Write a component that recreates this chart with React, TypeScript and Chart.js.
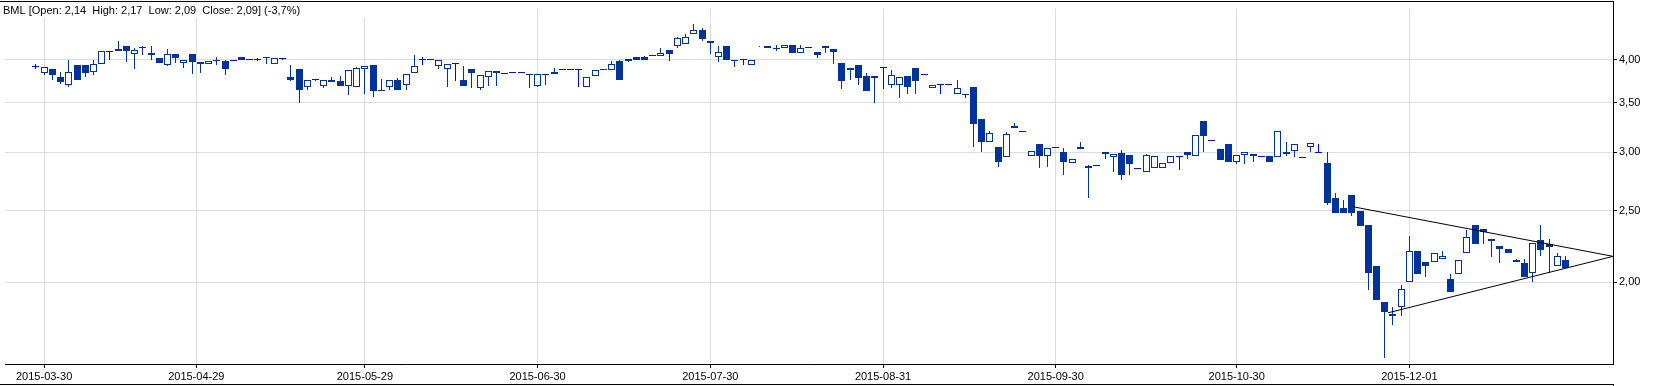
import React, { useEffect, useRef } from 'react';
import Chart from 'chart.js/auto';

// ---- data (trading-day index 0 = 2015-03-27) ----
const openP = [
  3.92, 3.84, 3.89, 3.79, 3.70, 3.93, 3.93, 3.85, 3.95, 4.11,
  4.11, 4.18, 4.07, 4.16, 4.09, 4.02, 3.94, 4.07, 3.96, 4.07,
  3.97, 3.95, 4.00, 3.98, 3.99, 4.04, 4.00, 4.00, 4.04, 3.95,
  4.01, 3.79, 3.89, 3.68, 3.76, 3.69, 3.76, 3.74, 3.69, 3.67,
  3.89, 3.93, 3.64, 3.67, 3.76, 3.70, 3.84, 4.00, 4.00, 3.92,
  3.89, 3.95, 3.76, 3.89, 3.66, 3.79, 3.86, 3.83, 3.85, 3.85,
  3.83, 3.69, 3.81, 3.85, 3.88, 3.88, 3.88, 3.68, 3.80, 3.89,
  3.88, 3.98, 4.01, 4.03, 4.03, 4.05, 4.05, 4.12, 4.17, 4.20,
  4.33, 4.39, 4.24, 4.04, 4.18, 3.98, 4.00, 3.94, 4.18, 4.18,
  4.15, 4.15, 4.19, 4.08, 4.15, 4.10, 4.17, 4.14, 3.96, 3.90,
  3.93, 3.80, 3.80, 3.90, 3.70, 3.70, 3.80, 3.90, 3.82, 3.66,
  3.70, 3.70, 3.59, 3.60, 3.67, 3.33, 3.10, 3.05, 2.95, 3.25,
  3.20, 2.96, 3.08, 2.96, 3.04, 3.00, 2.90, 3.05, 2.87, 2.88,
  3.00, 2.95, 2.99, 2.97, 2.85, 2.82, 2.85, 2.85, 2.90, 2.96,
  3.00, 2.96, 3.31, 3.11, 3.03, 3.08, 2.91, 2.97, 2.98, 2.96,
  2.96, 2.95, 3.00, 3.01, 2.95, 3.05, 3.00, 2.90, 2.60, 2.52,
  2.62, 2.50, 2.39, 2.10, 1.88, 1.81, 1.85, 2.00, 2.20, 2.13,
  2.13, 2.15, 2.02, 2.05, 2.19, 2.39, 2.36, 2.29, 2.24, 2.22,
  2.14, 2.12, 2.06, 2.28, 2.25, 2.10, 2.14,
];
const highP = [
  3.95, 3.91, 3.89, 3.85, 4.00, 3.93, 3.93, 4.00, 4.11, 4.11,
  4.24, 4.18, 4.15, 4.18, 4.17, 4.02, 4.14, 4.07, 4.00, 4.07,
  3.97, 3.99, 4.04, 4.00, 4.00, 4.04, 4.00, 4.02, 4.04, 4.02,
  4.01, 3.94, 3.89, 3.75, 3.77, 3.75, 3.79, 3.80, 3.88, 3.91,
  3.92, 3.93, 3.77, 3.76, 3.78, 3.83, 4.06, 4.04, 4.01, 4.00,
  3.95, 3.95, 3.92, 3.89, 3.82, 3.86, 3.86, 3.83, 3.85, 3.85,
  3.83, 3.83, 3.83, 3.90, 3.88, 3.88, 3.88, 3.79, 3.87, 3.89,
  3.98, 4.00, 4.01, 4.03, 4.05, 4.05, 4.15, 4.12, 4.30, 4.33,
  4.47, 4.42, 4.24, 4.18, 4.18, 4.00, 4.00, 4.00, 4.18, 4.18,
  4.19, 4.19, 4.19, 4.19, 4.15, 4.10, 4.18, 4.14, 3.96, 3.90,
  3.93, 3.84, 3.80, 3.90, 3.88, 3.79, 3.80, 3.90, 3.82, 3.70,
  3.70, 3.70, 3.76, 3.60, 3.67, 3.33, 3.20, 3.05, 3.19, 3.28,
  3.20, 3.01, 3.08, 3.04, 3.04, 3.04, 2.94, 3.10, 2.88, 2.88,
  3.00, 2.98, 3.02, 2.97, 2.85, 2.98, 2.96, 2.90, 2.96, 2.96,
  3.00, 3.16, 3.31, 3.11, 3.03, 3.08, 2.97, 3.00, 2.98, 2.96,
  2.96, 3.20, 3.10, 3.08, 2.95, 3.09, 3.08, 3.00, 2.64, 2.58,
  2.62, 2.50, 2.39, 2.10, 1.88, 1.85, 1.98, 2.31, 2.20, 2.13,
  2.19, 2.20, 2.05, 2.14, 2.35, 2.39, 2.36, 2.29, 2.24, 2.22,
  2.15, 2.15, 2.26, 2.39, 2.29, 2.19, 2.17,
];
const lowP = [
  3.89, 3.82, 3.75, 3.71, 3.68, 3.75, 3.79, 3.82, 3.95, 4.00,
  4.11, 3.97, 3.89, 4.06, 4.00, 3.96, 3.92, 3.96, 3.90, 3.83,
  3.84, 3.95, 3.93, 3.82, 3.98, 4.00, 4.00, 3.99, 3.95, 3.95,
  4.00, 3.74, 3.50, 3.64, 3.74, 3.66, 3.73, 3.69, 3.58, 3.67,
  3.59, 3.56, 3.63, 3.64, 3.64, 3.64, 3.84, 3.94, 4.00, 3.89,
  3.67, 3.74, 3.69, 3.66, 3.64, 3.69, 3.69, 3.83, 3.85, 3.85,
  3.66, 3.67, 3.70, 3.83, 3.88, 3.88, 3.68, 3.68, 3.80, 3.87,
  3.87, 3.75, 3.97, 4.00, 4.00, 4.05, 4.05, 3.98, 4.15, 4.20,
  4.33, 4.24, 4.07, 3.97, 4.00, 3.91, 3.94, 3.94, 4.16, 4.15,
  4.11, 4.15, 4.08, 4.08, 4.15, 4.02, 4.09, 3.95, 3.65, 3.75,
  3.70, 3.63, 3.50, 3.65, 3.66, 3.55, 3.59, 3.59, 3.82, 3.66,
  3.59, 3.70, 3.59, 3.55, 3.05, 3.00, 3.10, 2.86, 2.95, 3.23,
  3.20, 2.96, 2.85, 2.86, 3.04, 2.79, 2.90, 3.03, 2.60, 2.88,
  2.94, 2.82, 2.75, 2.79, 2.85, 2.82, 2.85, 2.85, 2.90, 2.84,
  2.94, 2.96, 3.00, 3.11, 2.93, 2.91, 2.89, 2.89, 2.91, 2.96,
  2.91, 2.95, 2.96, 2.95, 2.95, 3.00, 3.00, 2.54, 2.48, 2.48,
  2.46, 2.38, 1.95, 1.89, 1.58, 1.75, 1.80, 2.00, 2.05, 2.03,
  2.13, 2.15, 1.94, 2.05, 2.19, 2.25, 2.25, 2.16, 2.12, 2.19,
  2.13, 2.03, 2.00, 2.17, 2.06, 2.10, 2.09,
];
const closeP = [
  3.92, 3.91, 3.82, 3.73, 3.85, 3.75, 3.84, 3.95, 4.11, 4.11,
  4.14, 4.11, 4.12, 4.15, 4.06, 3.96, 4.07, 4.02, 4.00, 3.97,
  3.95, 3.99, 3.98, 3.89, 3.99, 4.00, 4.00, 4.00, 4.02, 4.02,
  4.01, 3.76, 3.64, 3.75, 3.76, 3.75, 3.73, 3.69, 3.88, 3.90,
  3.92, 3.63, 3.63, 3.76, 3.64, 3.83, 3.92, 4.00, 4.00, 4.00,
  3.95, 3.95, 3.69, 3.84, 3.82, 3.86, 3.84, 3.83, 3.85, 3.85,
  3.81, 3.83, 3.83, 3.83, 3.88, 3.88, 3.88, 3.79, 3.87, 3.87,
  3.95, 3.75, 3.99, 4.00, 4.00, 4.05, 4.08, 4.07, 4.28, 4.30,
  4.39, 4.27, 4.22, 4.10, 4.00, 4.00, 4.00, 4.00, 4.17, 4.15,
  4.14, 4.19, 4.08, 4.15, 4.15, 4.06, 4.15, 4.10, 3.74, 3.88,
  3.78, 3.63, 3.78, 3.90, 3.82, 3.79, 3.68, 3.74, 3.82, 3.70,
  3.70, 3.70, 3.66, 3.58, 3.27, 3.10, 3.18, 2.91, 3.17, 3.23,
  3.20, 3.01, 2.96, 3.04, 3.04, 2.91, 2.94, 3.03, 2.85, 2.88,
  2.98, 2.98, 2.79, 2.89, 2.85, 2.97, 2.96, 2.90, 2.96, 2.96,
  2.97, 3.16, 3.15, 3.11, 2.93, 2.91, 2.97, 3.00, 2.96, 2.96,
  2.91, 3.20, 2.98, 3.08, 2.95, 3.09, 3.00, 2.56, 2.48, 2.48,
  2.48, 2.38, 2.06, 1.89, 1.82, 1.80, 1.96, 2.20, 2.05, 2.10,
  2.19, 2.17, 1.94, 2.14, 2.30, 2.25, 2.34, 2.27, 2.22, 2.19,
  2.13, 2.03, 2.26, 2.21, 2.23, 2.17, 2.09,
];

const tickDates = [
  '2015-03-30', '2015-04-29', '2015-05-29', '2015-06-30', '2015-07-30',
  '2015-08-31', '2015-09-30', '2015-10-30', '2015-12-01',
];
const tickIndex = [1, 19.5, 40, 61, 82, 103, 124, 146, 167];
const priceTicks = [2, 2.5, 3, 3.5, 4];

const trendUpper = [{ x: 160.1, y: 2.53 }, { x: 191.76, y: 2.167 }];
const trendLower = [{ x: 164.4, y: 1.817 }, { x: 191.76, y: 2.167 }];

const X_MIN = -3.758;
const X_MAX = 191.76;
const Y_MIN = 1.549;
const Y_MAX = 4.6925;

const DARK = '#003399';
const DOJI = '#0000ff';
const GRID = '#dcdcdc';
const FONT = '"Liberation Sans", Arial, sans-serif';

const fmt = (v: number) => v.toFixed(2).replace('.', ',');

export default function App() {
  const ref = useRef<HTMLCanvasElement | null>(null);

  useEffect(() => {
    document.body.style.margin = '0';
    const canvas = ref.current;
    if (!canvas) return;

    const n = openP.length;
    const idx = Array.from({ length: n }, (_, i) => i);
    const isDoji = (i: number) => openP[i] === closeP[i];
    const bodyIdx = idx.filter((i) => !isDoji(i));
    const dojiIdx = idx.filter((i) => isDoji(i));

    const last = n - 1;
    const change = ((closeP[last] / closeP[last - 1]) - 1) * 100;
    const title = `BML [Open: ${fmt(openP[last])}  High: ${fmt(highP[last])}  Low: ${fmt(lowP[last])}  Close: ${fmt(closeP[last])}] (${change.toFixed(1).replace('.', ',')}%)`;

    // snap candle elements (positioned by the scales) onto the pixel grid for crisp edges
    const snapPlugin = {
      id: 'snap',
      afterDatasetsUpdate(chart: any) {
        chart.data.datasets.forEach((ds: any, di: number) => {
          const meta = chart.getDatasetMeta(di);
          if (ds.snap === 'bar') {
            meta.data.forEach((el: any) => {
              el.x = Math.floor(el.x) + 0.5;
              el.y = Math.round(el.y);
              el.base = Math.round(el.base);
            });
          } else if (ds.snap === 'point') {
            meta.data.forEach((el: any) => {
              el.x = Math.floor(el.x) + 0.5;
              el.y = Math.floor(el.y) + 0.5;
            });
          }
        });
      },
    };

    const framePlugin = {
      id: 'frame',
      beforeDatasetsDraw(chart: any) {
        const ctx = chart.ctx;
        ctx.save();
        ctx.fillStyle = '#ffffff';
        ctx.fillRect(0, 2, 420, 16);
        ctx.fillStyle = '#000000';
        ctx.font = `11px ${FONT}`;
        ctx.textBaseline = 'alphabetic';
        ctx.textAlign = 'left';
        ctx.fillText(title, 3, 14);
        ctx.restore();
      },
      afterDraw(chart: any) {
        const ctx = chart.ctx;
        const a = chart.chartArea;
        ctx.save();
        ctx.fillStyle = '#000000';
        ctx.fillRect(0, 1, Math.round(a.right) + 1, 1);
        ctx.fillRect(Math.round(a.right), 1, 1, Math.round(a.bottom));
        ctx.fillRect(0, 384, Math.round(a.right) + 1, 1);
        ctx.fillRect(Math.round(a.right), 384, 1, 2);
        ctx.restore();
      },
    };

    const chart = new Chart(canvas, {
      type: 'bar',
      data: {
        datasets: [
          {
            type: 'line',
            data: trendUpper,
            borderColor: '#000',
            borderWidth: 1,
            pointRadius: 0,
            fill: false,
            order: 0,
          } as any,
          {
            type: 'line',
            data: trendLower,
            borderColor: '#000',
            borderWidth: 1,
            pointRadius: 0,
            fill: false,
            order: 0,
          } as any,
          {
            type: 'bar',
            snap: 'bar',
            data: bodyIdx.map((i) => ({ x: i, y: [openP[i], closeP[i]] })),
            backgroundColor: bodyIdx.map((i) => (closeP[i] < openP[i] ? DARK : '#ffffff')),
            borderColor: DARK,
            borderWidth: 1,
            borderSkipped: false,
            barThickness: 7,
            grouped: false,
            inflateAmount: 0,
            order: 1,
          } as any,
          {
            type: 'line',
            snap: 'point',
            data: dojiIdx.map((i) => ({ x: i, y: openP[i] })),
            showLine: false,
            pointStyle: 'line',
            pointRadius: 3.5,
            pointBorderColor: DOJI,
            pointBackgroundColor: DOJI,
            pointBorderWidth: 1,
            order: 1,
          } as any,
          {
            type: 'bar',
            snap: 'bar',
            data: idx.map((i) => ({ x: i, y: [lowP[i], highP[i]] })),
            backgroundColor: idx.map((i) => (isDoji(i) ? DOJI : DARK)),
            borderWidth: 0,
            barThickness: 1,
            grouped: false,
            inflateAmount: 0,
            order: 2,
          } as any,
        ],
      },
      options: {
        responsive: false,
        animation: false,
        events: [],
        layout: { padding: { top: 1, left: 0, right: 0, bottom: 0 } },
        plugins: {
          legend: { display: false },
          tooltip: { enabled: false },
          title: { display: false },
        },
        scales: {
          x: {
            type: 'linear',
            min: X_MIN,
            max: X_MAX,
            bounds: 'data',
            offset: false,
            afterBuildTicks: (s: any) => {
              s.ticks = tickIndex.map((v) => ({ value: v }));
            },
            afterFit: (s: any) => {
              s.height = 22;
            },
            ticks: {
              autoSkip: false,
              maxRotation: 0,
              minRotation: 0,
              padding: 2,
              color: '#000',
              font: { family: FONT, size: 11 },
              callback: (_v: any, i: number) => tickDates[i],
            },
            grid: {
              offset: false,
              color: GRID,
              lineWidth: 1,
              drawTicks: true,
              tickLength: 4,
              tickColor: '#000',
            },
            border: { display: true, color: '#000', width: 1 },
          },
          y: {
            type: 'logarithmic',
            position: 'right',
            min: Y_MIN,
            max: Y_MAX,
            bounds: 'data',
            afterBuildTicks: (s: any) => {
              s.ticks = priceTicks.map((v) => ({ value: v }));
            },
            afterFit: (s: any) => {
              s.width = 49;
            },
            ticks: {
              padding: 2,
              color: '#000',
              font: { family: FONT, size: 11 },
              callback: (v: any) => fmt(Number(v)),
            },
            grid: {
              offset: false,
              color: GRID,
              lineWidth: 1,
              drawTicks: true,
              tickLength: 4,
              tickColor: '#000',
            },
            border: { display: true, color: '#000', width: 1 },
          },
        },
      } as any,
      plugins: [snapPlugin, framePlugin],
    });

    return () => chart.destroy();
  }, []);

  return (
    <div style={{ position: 'absolute', left: 0, top: 0, width: 1662, height: 386, background: '#fff' }}>
      <canvas ref={ref} width={1662} height={386} style={{ display: 'block', width: 1662, height: 386 }} />
    </div>
  );
}
